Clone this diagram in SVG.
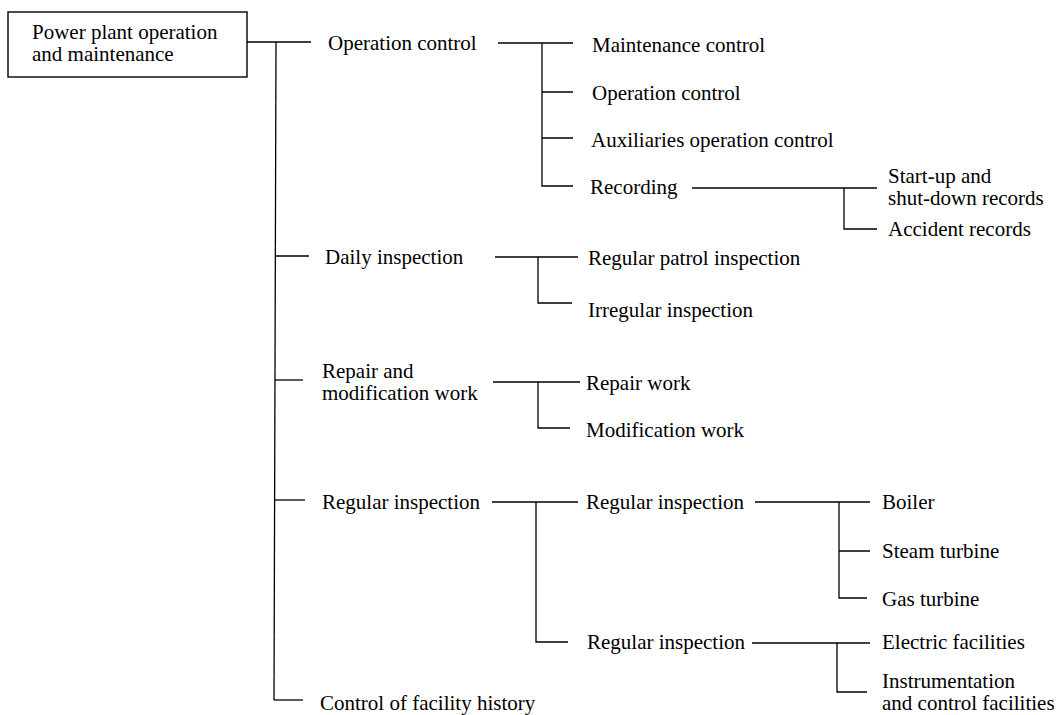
<svg xmlns="http://www.w3.org/2000/svg" width="1056" height="715" viewBox="0 0 1056 715">
<style>
text{font-family:"Liberation Serif","Times New Roman",serif;font-size:21px;fill:#000}
.c line,.c path{stroke:#000;stroke-width:1.3;fill:none}
.box{fill:#fff;stroke:#000;stroke-width:1.4}
</style>
<rect width="1056" height="715" fill="#fff"/>
<g class="c" id="connectors">
<line x1="247" y1="42" x2="311" y2="42"/>
<line x1="276" y1="42" x2="274" y2="700"/>
<line x1="276" y1="256" x2="309" y2="256"/>
<line x1="275" y1="380" x2="303" y2="380"/>
<line x1="275" y1="500" x2="305" y2="500"/>
<line x1="274" y1="700" x2="303" y2="700"/>
<line x1="498" y1="43" x2="573" y2="43"/>
<path d="M542 43V186H573M542 92H573M542 138H573"/>
<line x1="692" y1="188" x2="877" y2="188"/>
<path d="M844 188V229H877"/>
<line x1="495" y1="257" x2="578" y2="257"/>
<path d="M538 257V303H572"/>
<line x1="493" y1="382" x2="580" y2="382"/>
<path d="M538 382V428H570"/>
<line x1="492" y1="502" x2="578" y2="502"/>
<path d="M536 502V642H568"/>
<line x1="755" y1="502" x2="870" y2="502"/>
<path d="M839 502V598H867M839 551H870"/>
<line x1="752" y1="643" x2="870" y2="643"/>
<path d="M837 643V692H867"/>
</g>
<g id="root">
<rect class="box" x="8" y="12" width="239" height="65"/>
<text x="32" y="39">Power plant operation<tspan x="32" y="61">and maintenance</tspan></text>
</g>
<g id="operation-control"><text x="328" y="50">Operation control</text></g>
<g id="maintenance-control"><text x="592" y="52">Maintenance control</text></g>
<g id="operation-control-2"><text x="592" y="100">Operation control</text></g>
<g id="auxiliaries"><text x="591" y="147">Auxiliaries operation control</text></g>
<g id="recording"><text x="590" y="194">Recording</text></g>
<g id="startup"><text x="888" y="183">Start-up and<tspan x="888" y="205">shut-down records</tspan></text></g>
<g id="accident"><text x="888" y="236">Accident records</text></g>
<g id="daily"><text x="325" y="264">Daily inspection</text></g>
<g id="patrol"><text x="588" y="265">Regular patrol inspection</text></g>
<g id="irregular"><text x="588" y="317">Irregular inspection</text></g>
<g id="repair-mod"><text x="322" y="378">Repair and<tspan x="322" y="400">modification work</tspan></text></g>
<g id="repair"><text x="586" y="390">Repair work</text></g>
<g id="modification"><text x="586" y="437">Modification work</text></g>
<g id="regular"><text x="322" y="509">Regular inspection</text></g>
<g id="regular-1"><text x="586" y="509">Regular inspection</text></g>
<g id="regular-2"><text x="587" y="649">Regular inspection</text></g>
<g id="boiler"><text x="882" y="509">Boiler</text></g>
<g id="steam"><text x="882" y="558">Steam turbine</text></g>
<g id="gas"><text x="882" y="606">Gas turbine</text></g>
<g id="electric"><text x="882" y="649">Electric facilities</text></g>
<g id="instrumentation"><text x="882" y="688">Instrumentation<tspan x="882" y="710">and control facilities</tspan></text></g>
<g id="history"><text x="320" y="710">Control of facility history</text></g>
</svg>
